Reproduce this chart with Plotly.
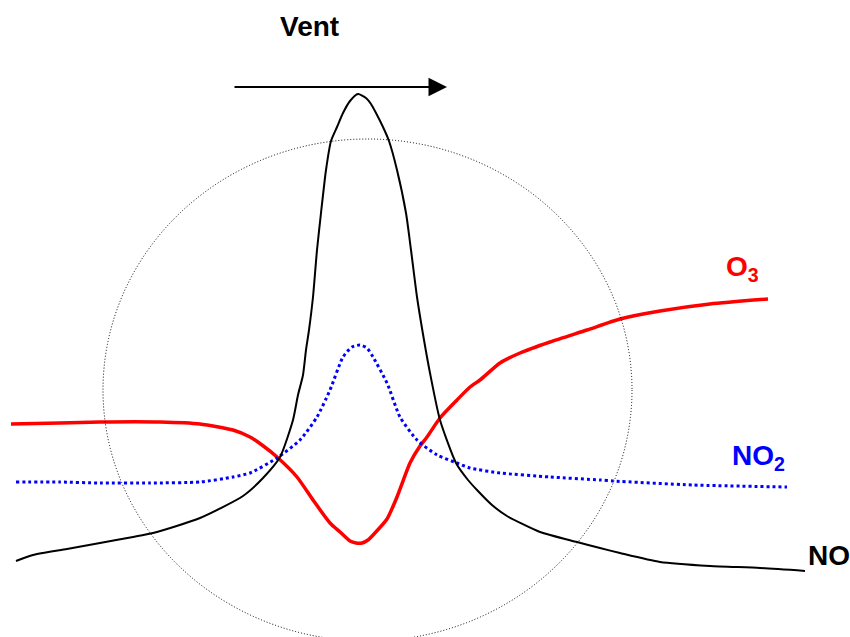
import plotly.graph_objects as go

# Schematic plume profile across the wind direction (pixel-like units, y grows downward)
no_x = [16, 33, 67, 100, 133, 153, 200, 243, 263, 280, 293, 298, 303, 306, 309, 313, 317, 321, 326, 331,
        337, 343, 350, 358, 366, 371, 376, 383, 389, 397, 406, 411, 417, 424, 430, 440, 456, 468, 477, 492,
        507, 540, 577, 600, 620, 660, 710, 760, 805]
no_y = [561, 555, 549, 543, 537, 533, 518, 496, 478, 457, 420, 395, 375, 350, 330, 297, 250, 213, 170, 141,
        127, 113, 101, 94, 98, 104, 113, 127, 141, 170, 213, 250, 297, 340, 373, 420, 463, 480, 490, 505,
        516, 532, 542, 548, 553, 562, 566, 568, 571]

no2_x = [16, 60, 100, 150, 200, 233, 250, 277, 300, 317, 330, 343, 352, 360, 367, 373, 387, 400, 417, 437,
         457, 470, 500, 550, 600, 613, 693, 787]
no2_y = [482, 482, 483, 483, 482, 477, 473, 458, 440, 417, 390, 357, 347, 345, 348, 357, 383, 417, 440, 455,
         463, 468, 473, 477, 480, 481, 485, 487]

o3_x = [11, 60, 100, 160, 200, 233, 250, 262, 277, 297, 313, 330, 340, 350, 356, 362, 368, 374, 387, 397, 410,
        420, 427, 440, 457, 470, 480, 500, 520, 550, 587, 620, 660, 710, 768]
o3_y = [424, 423, 422, 422, 424, 430, 437, 445, 457, 477, 500, 523, 532, 541, 543, 543, 540, 534, 519, 497, 463,
        446, 437, 418, 400, 387, 380, 363, 353, 342, 330, 319, 311, 304, 299]

labels = ["NO", "NO<sub>2</sub>", "O<sub>3</sub>"]
label_x = [806, 730, 724]
label_y = [555, 457, 268]
colors = ["#000000", "#0000FF", "#FF0000"]

fig = go.Figure()
fig.add_trace(go.Scatter(x=o3_x, y=o3_y, mode="lines",
                         line=dict(color=colors[2], width=3.5, shape="spline", smoothing=0.6)))
fig.add_trace(go.Scatter(x=no2_x, y=no2_y, mode="lines",
                         line=dict(color=colors[1], width=3, dash="dot", shape="spline", smoothing=0.6)))
fig.add_trace(go.Scatter(x=no_x, y=no_y, mode="lines",
                         line=dict(color=colors[0], width=2, shape="spline", smoothing=0.6)))

# dotted circle
fig.add_shape(type="circle", xref="x", yref="y", x0=103, x1=632, y0=139, y1=641,
              line=dict(color="black", width=1, dash="1px,2px"))

# wind arrow
fig.add_annotation(x=447, y=87, ax=233, ay=87, xref="x", yref="y", axref="x", ayref="y",
                   showarrow=True, arrowhead=2, arrowwidth=2, arrowsize=1.85, arrowcolor="black", text="")
fig.add_annotation(x=278, y=26, xref="x", yref="y", text="<b>Vent</b>", showarrow=False,
                   xanchor="left", yanchor="middle",
                   font=dict(family="Liberation Sans, Arial", size=28, color="black"))

for t, lx, ly, c in zip(labels, label_x, label_y, colors):
    fig.add_annotation(x=lx, y=ly, xref="x", yref="y", text="<b>" + t + "</b>", showarrow=False,
                       xanchor="left", yanchor="middle",
                       font=dict(family="Liberation Sans, Arial", size=28, color=c))

fig.update_layout(width=850, height=637, margin=dict(l=0, r=0, t=0, b=0),
                  plot_bgcolor="white", paper_bgcolor="white", showlegend=False)
fig.update_xaxes(range=[0, 850], visible=False)
fig.update_yaxes(range=[637, 0], visible=False)

fig.write_html("out.html", config={"displayModeBar": False},
               post_script="document.body.style.margin='0';document.body.style.overflow='hidden';")
